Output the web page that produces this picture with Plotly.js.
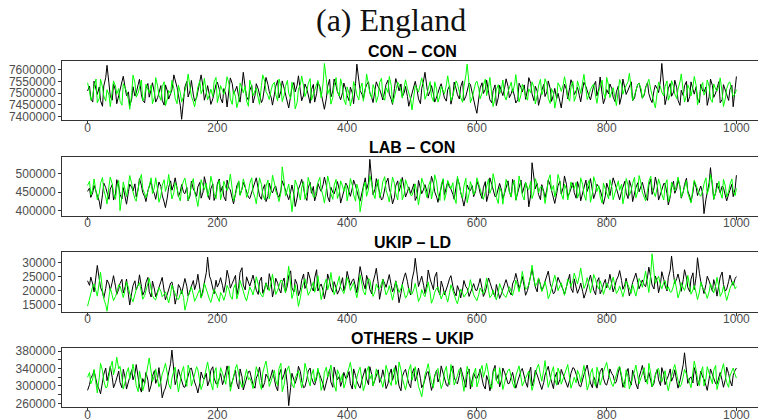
<!DOCTYPE html>
<html>
<head>
<meta charset="utf-8">
<script src="https://cdn.plot.ly/plotly-3.0.1.min.js"></script>
<style>
html,body{margin:0;padding:0;background:#fff;overflow:hidden;}
#chart{width:764px;height:420px;}
</style>
</head>
<body>
<div id="chart"></div>
<script>
// iteration numbers of the sampled trace points (about every 2.5 iterations, 0..1000)
const iterations = Array.from({length: 401}, (_, i) => Math.round(i * 2.5));

const panelTitles = ["CON – CON", "LAB – CON", "UKIP – LD", "OTHERS – UKIP"];
const mainTitle = "(a) England";
const xTickLabels = [0, 200, 400, 600, 800, 1000];

const conConBlack = [7510000,7531000,7478000,7462000,7552000,7519000,7495000,7527000,7468000,7444000,7531000,7567000,7620000,7541000,7487000,7470000,7540000,7512000,7455000,7490000,
7512000,7549000,7573000,7522000,7490000,7506000,7446000,7475000,7528000,7488000,7501000,7537000,7560000,7493000,7470000,7459000,7521000,7542000,7483000,7516000,
7545000,7503000,7462000,7481000,7498000,7533000,7470000,7449000,7536000,7510000,7475000,7497000,7514000,7579000,7560000,7524000,7492000,7447000,7388000,7459000,
7527000,7551000,7484000,7512000,7555000,7493000,7466000,7480000,7509000,7543000,7579000,7528000,7470000,7501000,7533000,7489000,7452000,7476000,7505000,7538000,
7548000,7517000,7479000,7458000,7520000,7496000,7441000,7503000,7566000,7541000,7497000,7514000,7530000,7485000,7462000,7535000,7590000,7523000,7486000,7469000,
7512000,7534000,7458000,7491000,7541000,7518000,7493000,7460000,7474000,7522000,7568000,7537000,7507000,7482000,7449000,7496000,7530000,7555000,7480000,7509000,
7553000,7521000,7495000,7470000,7437000,7488000,7524000,7546000,7506000,7535000,7575000,7509000,7468000,7492000,7540000,7519000,7489000,7457000,7515000,7538000,
7462000,7498000,7547000,7529000,7500000,7466000,7431000,7478000,7529000,7560000,7484000,7510000,7561000,7532000,7507000,7488000,7472000,7503000,7544000,7516000,
7490000,7468000,7526000,7501000,7455000,7542000,7625000,7557000,7512000,7495000,7477000,7520000,7536000,7549000,7503000,7481000,7460000,7514000,7549000,7527000,
7518000,7492000,7471000,7509000,7538000,7556000,7496000,7473000,7452000,7521000,7563000,7535000,7510000,7540000,7485000,7502000,7529000,7486000,7444000,7478000,
7502000,7530000,7551000,7511000,7476000,7455000,7520000,7557000,7590000,7526000,7488000,7509000,7533000,7497000,7462000,7484000,7507000,7528000,7541000,7503000,
7480000,7466000,7515000,7532000,7453000,7490000,7548000,7519000,7494000,7475000,7527000,7553000,7469000,7487000,7506000,7544000,7538000,7500000,7461000,7435000,
7414000,7478000,7523000,7545000,7499000,7517000,7556000,7505000,7472000,7459000,7511000,7536000,7447000,7481000,7534000,7508000,7490000,7527000,7562000,7530000,
7481000,7499000,7519000,7487000,7458000,7472000,7543000,7524000,7505000,7536000,7474000,7515000,7567000,7542000,7497000,7468000,7530000,7509000,7448000,7483000,
7512000,7538000,7486000,7507000,7553000,7520000,7465000,7492000,7521000,7477000,7500000,7463000,7437000,7498000,7539000,7516000,7476000,7525000,7558000,7534000,
7494000,7511000,7526000,7489000,7463000,7518000,7547000,7529000,7508000,7486000,7471000,7505000,7532000,7551000,7489000,7521000,7570000,7496000,7455000,7482000,
7516000,7497000,7540000,7519000,7483000,7464000,7506000,7531000,7452000,7488000,7561000,7523000,7495000,7514000,7527000,7549000,7468000,7480000,7510000,7539000,
7544000,7508000,7479000,7493000,7525000,7546000,7498000,7471000,7460000,7512000,7535000,7519000,7503000,7557000,7628000,7530000,7451000,7489000,7520000,7542000,
7487000,7505000,7556000,7524000,7470000,7448000,7513000,7490000,7532000,7551000,7462000,7485000,7549000,7517000,7496000,7528000,7475000,7460000,7538000,7509000,
7505000,7527000,7448000,7486000,7561000,7533000,7482000,7501000,7524000,7550000,7459000,7473000,7537000,7514000,7493000,7469000,7516000,7534000,7442000,7521000,
7572000];

const conConGreen = [7545000,7512000,7470000,7489000,7530000,7561000,7459000,7478000,7560000,7527000,7488000,7466000,7515000,7493000,7442000,7508000,7553000,7531000,7496000,7520000,
7466000,7449000,7541000,7523000,7507000,7472000,7431000,7495000,7578000,7546000,7483000,7501000,7520000,7557000,7468000,7486000,7539000,7515000,7502000,7536000,
7455000,7481000,7567000,7530000,7491000,7470000,7528000,7549000,7447000,7476000,7512000,7498000,7555000,7520000,7478000,7455000,7535000,7502000,7462000,7487000,
7509000,7543000,7582000,7524000,7487000,7463000,7441000,7490000,7526000,7553000,7498000,7519000,7564000,7506000,7472000,7495000,7518000,7486000,7549000,7568000,
7460000,7497000,7533000,7511000,7495000,7529000,7571000,7540000,7476000,7452000,7514000,7485000,7438000,7471000,7544000,7522000,7501000,7530000,7467000,7444000,
7556000,7528000,7489000,7510000,7523000,7479000,7452000,7533000,7579000,7552000,7507000,7490000,7473000,7514000,7536000,7547000,7495000,7468000,7561000,7531000,
7464000,7492000,7529000,7555000,7500000,7477000,7548000,7509000,7433000,7461000,7517000,7538000,7574000,7530000,7486000,7511000,7541000,7563000,7470000,7496000,
7512000,7531000,7555000,7516000,7480000,7542000,7628000,7559000,7496000,7519000,7453000,7482000,7535000,7567000,7508000,7487000,7562000,7526000,7474000,7451000,
7527000,7499000,7445000,7482000,7550000,7523000,7493000,7471000,7518000,7544000,7466000,7513000,7583000,7538000,7501000,7479000,7537000,7512000,7461000,7490000,
7546000,7565000,7488000,7470000,7524000,7503000,7572000,7534000,7457000,7485000,7510000,7547000,7539000,7511000,7479000,7526000,7558000,7520000,7496000,7473000,
7428000,7491000,7533000,7518000,7505000,7541000,7566000,7529000,7474000,7497000,7520000,7550000,7487000,7465000,7549000,7516000,7462000,7488000,7530000,7509000,
7497000,7536000,7575000,7522000,7468000,7490000,7514000,7553000,7541000,7504000,7482000,7461000,7530000,7577000,7625000,7538000,7459000,7483000,7509000,7544000,
7552000,7519000,7476000,7502000,7534000,7561000,7490000,7527000,7568000,7496000,7443000,7480000,7515000,7537000,7498000,7520000,7557000,7485000,7471000,7506000,
7526000,7548000,7504000,7535000,7580000,7512000,7463000,7494000,7538000,7516000,7487000,7470000,7519000,7502000,7549000,7525000,7454000,7489000,7531000,7560000,
7493000,7517000,7562000,7539000,7478000,7456000,7520000,7499000,7436000,7481000,7545000,7528000,7508000,7536000,7571000,7530000,7484000,7466000,7527000,7551000,
7465000,7490000,7553000,7524000,7499000,7548000,7581000,7519000,7473000,7495000,7516000,7531000,7540000,7488000,7457000,7511000,7534000,7556000,7502000,7478000,
7568000,7533000,7481000,7505000,7524000,7476000,7447000,7513000,7559000,7537000,7496000,7521000,7531000,7550000,7586000,7514000,7469000,7492000,7512000,7539000,
7543000,7520000,7478000,7498000,7521000,7542000,7560000,7515000,7490000,7467000,7437000,7506000,7547000,7526000,7505000,7488000,7529000,7553000,7470000,7494000,
7554000,7530000,7496000,7477000,7518000,7549000,7583000,7508000,7462000,7491000,7536000,7515000,7489000,7527000,7572000,7533000,7450000,7482000,7525000,7546000,
7492000,7510000,7557000,7529000,7475000,7461000,7540000,7518000,7509000,7537000,7566000,7501000,7443000,7479000,7520000,7545000,7548000,7507000,7486000,7499000,
7515000];

const labConBlack = [452000,461000,436000,449000,468000,455000,441000,426000,405000,443000,474000,462000,447000,431000,458000,470000,429000,445000,483000,466000,
444000,432000,462000,440000,418000,451000,471000,463000,453000,472000,437000,459000,486000,468000,449000,438000,425000,454000,466000,479000,
458000,446000,431000,457000,477000,465000,442000,424000,409000,437000,463000,480000,455000,471000,488000,460000,438000,452000,470000,449000,
446000,463000,427000,441000,479000,458000,452000,439000,464000,476000,434000,450000,491000,467000,445000,430000,459000,472000,428000,443000,
472000,485000,450000,466000,438000,427000,482000,460000,456000,433000,419000,447000,467000,478000,443000,458000,476000,462000,451000,436000,
433000,448000,462000,475000,488000,459000,440000,431000,457000,470000,425000,439000,474000,455000,448000,463000,466000,442000,436000,455000,
480000,466000,454000,439000,430000,451000,469000,443000,412000,435000,458000,472000,484000,460000,441000,428000,461000,476000,447000,465000,
427000,446000,473000,459000,452000,470000,490000,468000,438000,424000,463000,449000,445000,462000,478000,457000,421000,440000,456000,474000,
468000,452000,439000,461000,482000,467000,450000,434000,426000,449000,471000,488000,457000,475000,537000,469000,443000,458000,486000,463000,
448000,429000,433000,454000,475000,487000,460000,441000,419000,436000,467000,480000,452000,470000,489000,461000,437000,451000,464000,446000,
455000,472000,428000,440000,481000,463000,446000,458000,470000,451000,434000,462000,492000,474000,451000,437000,423000,448000,466000,483000,
443000,460000,477000,462000,458000,444000,431000,465000,486000,471000,449000,430000,413000,440000,469000,456000,454000,467000,438000,452000,
479000,464000,447000,433000,462000,478000,425000,446000,488000,470000,456000,438000,440000,459000,473000,455000,432000,449000,465000,480000,
452000,437000,484000,466000,429000,450000,468000,482000,447000,461000,476000,458000,411000,443000,528000,487000,459000,473000,444000,430000,
470000,452000,435000,458000,482000,469000,453000,436000,420000,446000,467000,479000,445000,462000,493000,471000,438000,449000,461000,475000,
449000,434000,478000,460000,427000,445000,464000,482000,452000,468000,486000,457000,433000,450000,471000,463000,456000,437000,418000,441000,
474000,458000,441000,469000,488000,472000,459000,443000,430000,452000,466000,479000,448000,433000,481000,464000,425000,447000,462000,475000,
451000,466000,476000,455000,437000,428000,469000,484000,444000,461000,490000,468000,429000,445000,458000,473000,472000,446000,416000,438000,
463000,479000,447000,460000,483000,465000,434000,451000,470000,487000,453000,439000,424000,450000,478000,462000,441000,455000,466000,447000,
393000,431000,452000,476000,515000,468000,431000,449000,474000,459000,448000,466000,462000,440000,427000,445000,456000,471000,438000,459000,
495000];

const labConGreen = [468000,479000,442000,460000,485000,451000,430000,447000,473000,489000,456000,437000,419000,466000,490000,472000,447000,431000,462000,481000,
401000,440000,477000,455000,438000,469000,494000,473000,451000,432000,426000,458000,481000,497000,459000,446000,435000,452000,470000,488000,
446000,462000,488000,457000,423000,440000,467000,483000,452000,470000,497000,465000,432000,449000,475000,461000,441000,427000,463000,480000,
487000,459000,428000,448000,470000,486000,449000,430000,412000,451000,483000,467000,456000,474000,438000,461000,492000,470000,445000,432000,
467000,481000,430000,452000,479000,463000,454000,475000,498000,458000,427000,443000,462000,480000,441000,459000,485000,467000,436000,451000,
473000,488000,451000,436000,419000,457000,488000,470000,444000,429000,466000,482000,432000,455000,495000,474000,453000,439000,425000,449000,
517000,478000,440000,458000,471000,433000,398000,445000,482000,467000,449000,429000,463000,478000,431000,450000,489000,472000,455000,437000,
437000,460000,476000,489000,458000,440000,421000,457000,493000,471000,446000,431000,468000,484000,433000,449000,480000,466000,452000,470000,
427000,455000,486000,469000,443000,426000,471000,452000,398000,430000,461000,477000,439000,458000,494000,472000,448000,433000,466000,484000,
435000,452000,478000,491000,455000,439000,424000,462000,490000,473000,447000,429000,469000,485000,430000,445000,483000,467000,458000,442000,
441000,457000,472000,444000,416000,450000,487000,471000,453000,436000,464000,479000,432000,459000,496000,477000,445000,428000,470000,486000,
428000,449000,481000,466000,459000,475000,437000,420000,492000,468000,450000,434000,466000,487000,422000,446000,478000,461000,443000,456000,
488000,471000,455000,440000,431000,452000,470000,485000,447000,462000,499000,474000,436000,420000,463000,449000,418000,451000,484000,467000,
451000,437000,469000,482000,428000,455000,493000,468000,442000,429000,476000,461000,457000,479000,433000,450000,486000,470000,448000,464000,
465000,447000,420000,451000,482000,496000,454000,468000,437000,460000,497000,478000,446000,431000,471000,457000,429000,453000,477000,462000,
459000,476000,434000,449000,488000,470000,445000,428000,468000,481000,423000,446000,491000,473000,452000,467000,438000,421000,474000,458000,
447000,432000,483000,462000,430000,448000,466000,480000,455000,471000,419000,444000,486000,469000,441000,456000,473000,490000,435000,452000,
494000,473000,450000,436000,427000,454000,479000,492000,461000,448000,438000,463000,485000,466000,444000,429000,469000,483000,425000,441000,
477000,460000,453000,472000,490000,465000,436000,451000,466000,481000,448000,430000,421000,459000,482000,468000,457000,443000,439000,454000,
472000,488000,445000,463000,496000,474000,431000,447000,462000,479000,450000,434000,484000,466000,437000,452000,470000,485000,453000,441000,
460000];

const ukipLdBlack = [23500,21900,24800,22300,19600,25700,28900,24100,21200,19500,17400,20800,23800,22400,20100,23000,25300,21600,18700,20500,
22600,24000,19200,21400,24100,18600,15000,19300,21800,23500,20300,22100,25600,21500,18400,20000,22900,24700,19700,17800,
23400,20600,17900,19800,21500,23200,24700,20100,16800,18900,20600,22700,23100,19400,15300,18600,22200,20900,19000,21700,
24300,21500,18100,20200,21700,23600,20400,22800,25800,21300,17600,20500,22500,26400,31800,25100,23900,21200,18900,23700,
21300,22900,24600,21800,19400,23100,27200,24300,20900,22600,23600,25400,18500,21700,26400,28100,22000,20300,24900,22700,
21600,23900,25500,22400,20200,18700,23300,24800,19100,21000,22800,20400,26000,23100,17800,20900,24400,22600,20700,19200,
22900,24500,19500,21800,25200,27000,21000,19600,24000,22300,18300,20400,23700,25900,20800,22500,26600,24200,21400,19900,
24500,27400,19900,21600,22400,20000,17200,20700,25900,23400,21100,19500,23200,21000,18800,20300,22100,24600,20000,22800,
26800,24000,21900,23600,24200,21400,19300,24900,28500,25100,22700,20600,25400,23300,20500,18900,23000,25600,27900,22400,
17000,20800,24100,22500,21200,23800,25700,21900,19600,21400,23500,19800,15800,19100,22300,24900,26300,23200,20400,18500,
23800,26900,31400,25600,21500,23700,25100,21800,19000,22500,27300,24100,22600,20400,24800,26500,20300,18600,23400,21100,
18600,20300,22000,24400,25300,21600,19700,18200,21800,19900,17500,20600,23600,21400,20900,18000,19200,21700,22500,20200,
20100,22400,24300,20800,18000,19600,21700,24500,23000,20600,19400,17900,22200,19500,17300,19000,20800,22600,23900,21300,
19800,18500,22400,24000,26100,23200,20600,22900,25000,21500,18400,20100,22800,25400,27600,24300,21300,19600,24500,22200,
20000,21800,23300,25000,26900,22600,21000,18900,19500,22200,24700,23000,22100,20300,18700,21200,23500,25800,20900,19400,
24200,21700,19100,20900,22700,19800,17400,19500,21600,23800,25500,22000,20200,18600,23100,24600,18900,20400,22300,24000,
21000,23300,25800,22100,19600,21800,23700,25200,27100,23600,20500,22200,24400,21000,18200,20700,22900,24800,26200,23000,
20700,22500,23800,21900,21400,24900,28300,24700,22000,20600,25200,23100,19300,22400,26700,24000,21800,19900,24600,27300,
32200,26000,22500,24300,25900,22800,19800,23900,27400,24500,21200,19700,24100,26300,20400,25200,31600,26100,23300,21000,
19000,22200,25100,23400,21700,19800,23900,21300,18100,21500,24800,26600,22200,19900,20600,23300,25500,23000,21900,24300,
25000];

const ukipLdGreen = [14600,17300,19800,21600,22400,19500,18100,23000,26500,20200,17200,15100,12800,17900,20900,18400,16500,18000,19300,22100,
21700,19400,17600,20500,23200,21000,18900,17200,16100,18700,20400,21900,22800,19600,17000,18300,19900,21800,24300,20600,
18300,17100,16800,19200,21100,19800,17900,18800,19600,17400,15700,18900,22000,20100,18600,17200,16900,18500,20200,17600,
13200,15800,18000,19900,21400,18600,16300,17800,19100,20600,17400,19300,22700,20400,18800,16900,15900,18200,20500,19000,
17700,16200,19400,18100,16600,19000,21900,20300,18200,17000,20800,22400,17100,19600,23600,21200,19000,17500,16400,18800,
21300,19900,18500,21700,24900,22300,19700,18400,17800,20400,22600,21100,20000,22900,25800,21600,18700,20200,21500,23800,
23400,21200,19200,24600,28600,22000,17300,19700,22100,18000,14500,17600,20600,22800,24200,20900,18400,19800,21000,23100,
19500,22000,25300,20400,16900,19600,22300,24100,20300,22900,26400,21800,18600,20700,23000,25100,21200,19900,19000,21700,
24700,22600,20100,21800,22900,19400,17500,21300,25600,22200,19800,18500,21600,24300,23800,20000,18000,19700,22400,20800,
20700,22500,24000,20600,18500,20000,21800,18900,16700,19900,23300,21100,19400,20800,22200,19300,17400,18600,20900,19100,
18800,20700,22600,19000,16200,17800,20400,18600,17900,20800,23100,19200,15600,17400,19500,20900,21300,18700,17100,18900,
19900,17700,16000,19300,22100,20000,18200,16500,15400,18100,20600,19200,17800,18900,19300,21400,23900,20500,18600,17300,
16500,18800,21000,19600,18900,21700,24500,20100,17600,18500,20200,17900,16800,19400,22500,20600,19100,18000,17700,19800,
21400,19700,18300,20900,23700,21500,19600,23100,26800,23000,20500,21300,22000,25600,29000,24200,21600,22800,24400,21900,
19700,21400,23200,20300,17200,19000,21100,23400,25500,22600,20000,21700,22800,20100,18400,21200,24100,22900,21500,23600,
26200,24000,22400,25300,28000,23700,20800,22500,24600,21800,19200,22400,25700,23900,21900,20600,23500,21200,18700,20900,
22700,21400,20300,22900,24800,21500,19000,20200,21700,19600,17900,20500,23400,22000,20600,19100,22200,20000,18100,21300,
24300,22800,21200,24500,26900,22300,19400,25800,33000,26400,22600,24200,25100,22000,20700,22900,23600,20400,21400,19500,
19600,21700,24000,20200,17500,19800,22800,21000,20100,22700,25400,21600,18800,20300,21900,19200,16900,19500,23000,21100,
20400,18900,17300,19700,22500,20600,19200,21800,24700,21300,18000,19400,21600,18700,16600,19000,20800,22400,23300,20700,
21500];

const othersUkipBlack = [290000,303000,318000,326000,335000,314000,301000,292000,282000,309000,327000,341000,312000,330000,345000,320000,296000,308000,321000,334000,
308000,296000,338000,319000,293000,311000,326000,337000,314000,328000,349000,322000,299000,286000,317000,306000,331000,313000,287000,302000,
322000,335000,306000,318000,342000,305000,273000,289000,295000,316000,330000,352000,382000,327000,303000,318000,338000,322000,313000,298000,
297000,311000,325000,339000,341000,320000,309000,296000,284000,307000,332000,318000,316000,329000,300000,314000,336000,344000,319000,305000,
305000,317000,329000,303000,312000,331000,346000,324000,298000,310000,323000,336000,307000,293000,339000,321000,291000,306000,320000,333000,
334000,316000,303000,295000,318000,329000,343000,312000,296000,308000,327000,319000,311000,325000,337000,315000,300000,289000,324000,338000,
315000,327000,340000,301000,255000,297000,329000,314000,306000,321000,345000,333000,312000,296000,298000,316000,334000,341000,320000,307000,
302000,318000,336000,325000,317000,304000,290000,311000,325000,338000,309000,297000,343000,328000,314000,322000,299000,313000,331000,317000,
319000,333000,305000,293000,339000,324000,311000,300000,295000,315000,328000,340000,316000,303000,344000,326000,301000,312000,323000,337000,
308000,320000,337000,316000,294000,305000,326000,339000,313000,329000,347000,322000,300000,289000,321000,333000,338000,318000,306000,296000,
328000,340000,311000,325000,341000,317000,296000,305000,318000,331000,333000,310000,290000,307000,324000,336000,309000,321000,346000,329000,
315000,302000,299000,318000,335000,346000,320000,308000,305000,324000,342000,326000,311000,297000,327000,339000,293000,312000,330000,318000,
317000,328000,339000,316000,302000,293000,324000,310000,289000,306000,334000,347000,313000,326000,298000,314000,341000,330000,319000,305000,
306000,320000,331000,309000,295000,311000,322000,335000,340000,318000,310000,297000,327000,343000,300000,316000,336000,325000,314000,301000,
292000,308000,325000,337000,345000,321000,308000,294000,319000,331000,303000,315000,338000,324000,316000,302000,297000,314000,329000,342000,
340000,327000,313000,300000,298000,317000,326000,339000,348000,322000,307000,296000,321000,310000,295000,318000,333000,341000,318000,304000,
302000,319000,339000,328000,324000,306000,310000,332000,343000,318000,297000,309000,328000,340000,315000,302000,336000,321000,305000,293000,
320000,335000,347000,324000,309000,317000,331000,312000,298000,306000,326000,338000,314000,301000,342000,327000,303000,316000,323000,339000,
311000,322000,337000,310000,295000,312000,328000,349000,376000,330000,306000,318000,321000,307000,342000,325000,300000,314000,334000,320000,
316000,301000,290000,317000,339000,326000,318000,305000,304000,322000,331000,312000,297000,315000,343000,328000,313000,300000,325000,336000,
341000];

const othersUkipGreen = [320000,331000,305000,316000,338000,301000,284000,319000,352000,335000,312000,296000,297000,322000,341000,357000,326000,344000,366000,339000,
345000,318000,293000,309000,330000,342000,316000,331000,350000,324000,301000,287000,334000,313000,289000,305000,323000,346000,364000,332000,
310000,324000,339000,315000,298000,311000,327000,340000,352000,328000,305000,293000,318000,334000,343000,309000,286000,312000,331000,345000,
314000,299000,348000,333000,300000,315000,325000,344000,337000,311000,292000,306000,321000,339000,355000,328000,307000,291000,329000,342000,
296000,318000,342000,329000,317000,304000,333000,346000,288000,310000,326000,341000,349000,322000,311000,297000,302000,325000,338000,314000,
319000,306000,294000,321000,344000,330000,308000,292000,330000,347000,357000,328000,299000,312000,323000,336000,313000,301000,340000,352000,
287000,303000,327000,339000,346000,321000,304000,296000,318000,329000,335000,312000,296000,320000,352000,334000,315000,300000,324000,338000,
309000,323000,341000,317000,290000,305000,331000,343000,320000,334000,348000,319000,302000,288000,337000,326000,311000,328000,295000,310000,
328000,342000,354000,325000,306000,293000,319000,336000,343000,312000,289000,304000,333000,345000,316000,327000,300000,318000,339000,323000,
322000,309000,297000,320000,347000,331000,312000,301000,329000,342000,303000,315000,355000,337000,318000,302000,291000,314000,336000,349000,
313000,329000,344000,318000,299000,286000,275000,304000,326000,339000,351000,323000,308000,296000,321000,335000,340000,312000,294000,308000,
332000,345000,317000,303000,349000,328000,302000,314000,325000,339000,338000,311000,288000,319000,345000,330000,310000,298000,327000,341000,
298000,313000,335000,347000,320000,336000,352000,327000,306000,294000,329000,340000,313000,305000,342000,318000,292000,309000,324000,336000,
339000,321000,307000,295000,323000,337000,346000,319000,300000,311000,318000,331000,334000,309000,290000,306000,327000,343000,350000,325000,
311000,336000,358000,320000,297000,313000,330000,344000,315000,302000,341000,328000,304000,317000,326000,339000,349000,318000,295000,309000,
320000,307000,336000,325000,308000,331000,347000,316000,291000,305000,329000,340000,314000,299000,343000,327000,302000,318000,333000,346000,
354000,329000,318000,304000,299000,315000,327000,342000,345000,323000,310000,296000,337000,321000,293000,308000,322000,335000,348000,317000,
305000,319000,331000,342000,316000,304000,352000,328000,298000,313000,324000,338000,340000,315000,309000,322000,335000,303000,289000,311000,
326000,340000,349000,324000,312000,298000,303000,321000,338000,327000,320000,306000,296000,331000,357000,336000,315000,301000,330000,344000,
300000,316000,344000,329000,319000,305000,336000,347000,292000,310000,328000,339000,351000,322000,308000,297000,323000,334000,341000,326000,
318000];

const blackSeries = [conConBlack, labConBlack, ukipLdBlack, othersUkipBlack];
const greenSeries = [conConGreen, labConGreen, ukipLdGreen, othersUkipGreen];

// per panel: y range, first tick, tick step, minor step
const yRanges = [[7382900, 7639900], [386700, 544150], [12640, 33520], [250800, 386200]];
const yTick0 = [7400000, 400000, 15000, 260000];
const yDtick = [50000, 50000, 5000, 40000];
const yMinor = [null, null, null, 20000];
const domains = [[0.7131, 0.8555], [0.4857, 0.6270], [0.2579, 0.3993], [0.0298, 0.1707]];

const traces = [];
const layout = {
  width: 764, height: 420,
  margin: {l: 62, r: 2, t: 0, b: 0, pad: 0},
  paper_bgcolor: '#fff', plot_bgcolor: '#fff',
  showlegend: false,
  annotations: []
};
const tickFont = {family: 'Liberation Sans, Arial, sans-serif', size: 12, color: '#4d4d4d'};

for (let p = 0; p < 4; p++) {
  const sfx = p === 0 ? '' : String(p + 1);
  traces.push({x: iterations, y: blackSeries[p], type: 'scatter', mode: 'lines',
    line: {color: '#000000', width: 1}, xaxis: 'x' + sfx, yaxis: 'y' + sfx, hoverinfo: 'skip'});
  traces.push({x: iterations, y: greenSeries[p], type: 'scatter', mode: 'lines',
    line: {color: '#00ff00', width: 1}, xaxis: 'x' + sfx, yaxis: 'y' + sfx, hoverinfo: 'skip'});
  layout['xaxis' + sfx] = {
    domain: [0, 1], anchor: 'y' + sfx, range: [-39.4, 1039.4],
    tickmode: 'array', tickvals: xTickLabels, ticktext: xTickLabels.map(String),
    showline: true, mirror: true, linecolor: '#333', linewidth: 1,
    ticks: 'outside', ticklen: 3, tickcolor: '#333', tickwidth: 1,
    ticklabelstandoff: -7,
    showgrid: false, zeroline: false, tickfont: tickFont
  };
  const ya = {
    domain: domains[p], anchor: 'x' + sfx, range: yRanges[p],
    tick0: yTick0[p], dtick: yDtick[p], tickformat: 'd',
    showline: true, mirror: true, linecolor: '#333', linewidth: 1,
    ticks: 'outside', ticklen: 3, tickcolor: '#333', tickwidth: 1,
    showgrid: false, zeroline: false, tickfont: tickFont
  };
  if (yMinor[p]) ya.minor = {dtick: yMinor[p], tick0: yTick0[p], ticks: 'outside', ticklen: 3, tickcolor: '#333', showgrid: false};
  layout['yaxis' + sfx] = ya;
  layout.annotations.push({
    text: panelTitles[p], xref: 'paper', yref: 'paper', x: 0.5, y: domains[p][1],
    xanchor: 'center', yanchor: 'bottom', showarrow: false, yshift: -1,
    font: {family: 'Liberation Sans, Arial, sans-serif', size: 16, color: '#000', weight: 'bold'}
  });
}
layout.annotations.push({
  text: mainTitle, xref: 'paper', yref: 'paper', x: 0.4707, y: 1, xanchor: 'center', yanchor: 'top',
  showarrow: false, font: {family: 'Liberation Serif, serif', size: 32, color: '#111'}
});

Plotly.newPlot('chart', traces, layout, {displayModeBar: false, staticPlot: true});
</script>
</body>
</html>
